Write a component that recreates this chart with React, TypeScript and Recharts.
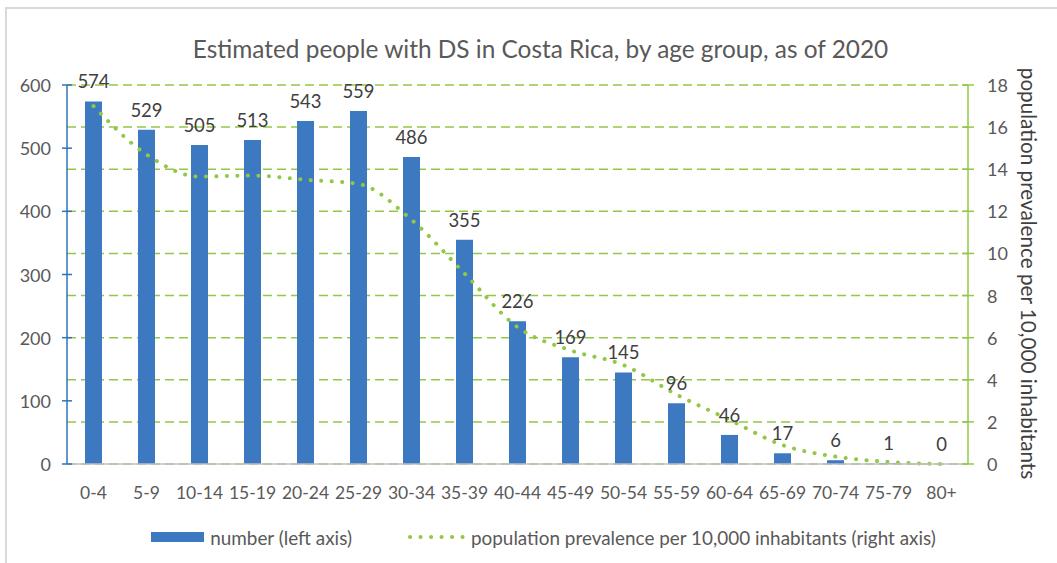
import React from "react";
import {
  ComposedChart,
  Bar,
  Line,
  XAxis,
  YAxis,
  CartesianGrid,
  LabelList,
  Legend,
} from "recharts";

const categories = [
  "0-4", "5-9", "10-14", "15-19", "20-24", "25-29", "30-34", "35-39", "40-44",
  "45-49", "50-54", "55-59", "60-64", "65-69", "70-74", "75-79", "80+",
];
const numbers = [574, 529, 505, 513, 543, 559, 486, 355, 226, 169, 145, 96, 46, 17, 6, 1, 0];
const prevalence = [17.0, 14.7, 13.65, 13.7, 13.5, 13.3, 11.6, 9.05, 6.5, 5.4, 4.7, 3.3, 2.1, 0.9, 0.35, 0.1, 0.0];
const leftTicks = [0, 100, 200, 300, 400, 500, 600];
const rightTicks = [0, 2, 4, 6, 8, 10, 12, 14, 16, 18];

const data = categories.map((c, i) => ({ cat: c, num: numbers[i], prev: prevalence[i] }));

const FONT = "Lato, 'Open Sans', sans-serif";
const TEXT = "#595959";
const BLUE = "#3C79C1";
const GREEN = "#92C846";

const LeftTick = (props: any) => {
  const { x, y, payload } = props;
  const ax = x + 16;
  return (
    <g>
      <line x1={ax - 5} x2={ax + 5} y1={y} y2={y} stroke="#2E75B6" strokeWidth={1.5} />
      <text x={x} y={y} textAnchor="end" dominantBaseline="central" fill={TEXT} fontSize={18} fontFamily={FONT}>
        {payload.value}
      </text>
    </g>
  );
};

const RightTick = (props: any) => {
  const { x, y, payload } = props;
  const ax = x - 19;
  return (
    <g>
      <line x1={ax - 6} x2={ax + 6} y1={y} y2={y} stroke={GREEN} strokeWidth={1.5} />
      <text x={x} y={y} textAnchor="start" dominantBaseline="central" fill={TEXT} fontSize={18} fontFamily={FONT}>
        {payload.value}
      </text>
    </g>
  );
};

const RightLabel = (props: any) => {
  const vb = props.viewBox || {};
  const cx = vb.x + vb.width + 1;
  const cy = vb.y + vb.height / 2 - 1;
  return (
    <text
      x={cx}
      y={cy}
      transform={`rotate(90, ${cx}, ${cy})`}
      textAnchor="middle"
      dominantBaseline="central"
      fill="#404040"
      fontSize={20.7}
      fontFamily={FONT}
    >
      population prevalence per 10,000 inhabitants
    </text>
  );
};

const LegendContent = () => (
  <div
    style={{
      display: "flex",
      alignItems: "center",
      justifyContent: "center",
      height: 24,
      fontFamily: FONT,
      fontSize: 18.9,
      color: TEXT,
      paddingLeft: 30,
      whiteSpace: "nowrap",
    }}
  >
    <span style={{ display: "inline-block", width: 53, height: 10, background: BLUE }} />
    <span style={{ marginLeft: 6 }}>number (left axis)</span>
    <svg width={58} height={10} style={{ marginLeft: 55 }}>
      <line x1={3} x2={58} y1={5} y2={5} stroke={GREEN} strokeWidth={4} strokeDasharray="0.1 10.4" strokeLinecap="round" />
    </svg>
    <span style={{ marginLeft: 6 }}>population prevalence per 10,000 inhabitants (right axis)</span>
  </div>
);

export default function App() {
  return (
    <div style={{ position: "absolute", left: 0, top: 0, width: 1057, height: 563, overflow: "hidden", background: "#fff" }}>
      <div
        style={{
          position: "absolute",
          left: 5,
          top: 7,
          width: 1100,
          height: 600,
          border: "2px solid #D9D9D9",
          boxSizing: "border-box",
        }}
      />
      <div
        style={{
          position: "absolute",
          left: 0,
          top: 34,
          width: 1081,
          textAlign: "center",
          fontFamily: FONT,
          fontSize: 24.4,
          color: TEXT,
          lineHeight: "30px",
        }}
      >
        Estimated people with DS in Costa Rica, by age group, as of 2020
      </div>
      <div style={{ position: "absolute", left: 0, top: 0 }}>
        <ComposedChart
          width={1057}
          height={563}
          data={data}
          margin={{ top: 85, right: 29, left: 27, bottom: 14 }}
          barCategoryGap={0}
        >
          <CartesianGrid
            yAxisId="right"
            vertical={false}
            stroke={GREEN}
            strokeWidth={1.5}
            strokeDasharray="9 5"
          />
          <XAxis
            dataKey="cat"
            height={61}
            tickLine={false}
            tickSize={0}
            tickMargin={23}
            axisLine={{ stroke: "#BFBFBF", strokeWidth: 1.5 }}
            tick={{ fill: TEXT, fontSize: 17.5, fontFamily: FONT }}
            interval={0}
          />
          <YAxis
            yAxisId="left"
            orientation="left"
            width={40}
            domain={[0, 600]}
            ticks={leftTicks}
            tickLine={false}
            tickSize={0}
            tickMargin={16}
            axisLine={{ stroke: "#2E75B6", strokeWidth: 1.5 }}
            tick={<LeftTick />}
            interval={0}
          />
          <YAxis
            yAxisId="right"
            orientation="right"
            width={60}
            domain={[0, 18]}
            ticks={rightTicks}
            tickLine={false}
            tickSize={0}
            tickMargin={19}
            axisLine={{ stroke: GREEN, strokeWidth: 1.5 }}
            tick={<RightTick />}
            interval={0}
            label={{ content: <RightLabel /> }}
          />
          <Bar yAxisId="left" dataKey="num" fill={BLUE} barSize={17} isAnimationActive={false} legendType="none" />
          <Line
            yAxisId="right"
            type="monotone"
            dataKey="prev"
            stroke={GREEN}
            strokeWidth={4}
            strokeDasharray="0.1 10.4"
            strokeLinecap="round"
            dot={false}
            activeDot={false}
            isAnimationActive={false}
          />
          <Line
            yAxisId="left"
            dataKey="num"
            stroke="none"
            dot={false}
            activeDot={false}
            isAnimationActive={false}
            legendType="none"
          >
            <LabelList dataKey="num" position="top" offset={13} fill="#404040" fontSize={18.5} fontFamily={FONT} />
          </Line>
          <Legend verticalAlign="bottom" content={<LegendContent />} wrapperStyle={{ left: 0, width: 1057 }} />
        </ComposedChart>
      </div>
    </div>
  );
}
